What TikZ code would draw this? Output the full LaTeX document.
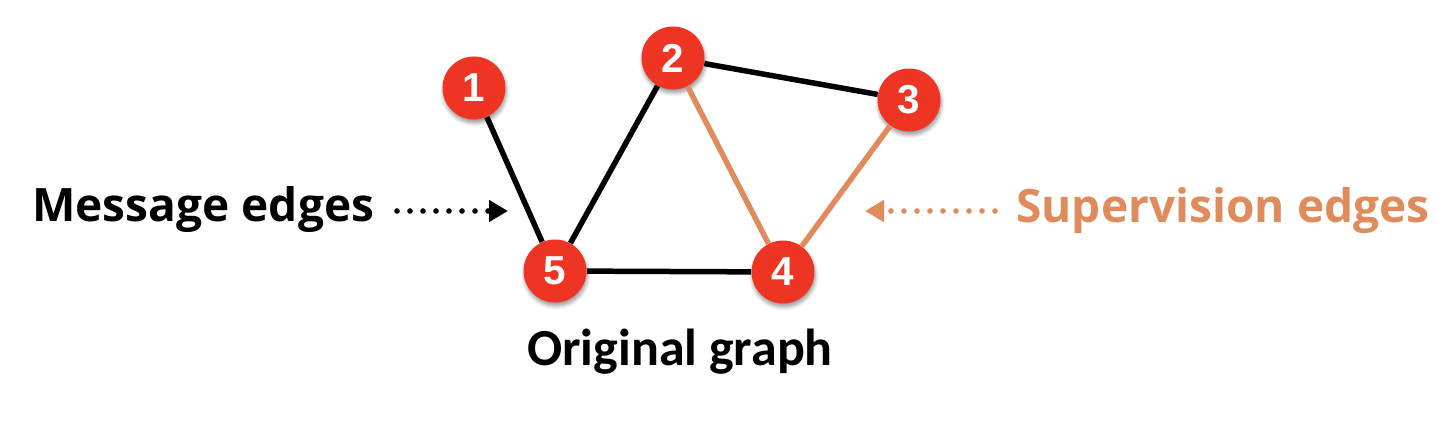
\documentclass[tikz,border=0pt]{standalone}
\usepackage{fontspec}
\setmainfont{Open Sans}
\newfontfamily\labelfont{Open Sans}
\newfontfamily\captionfont{Carlito}
\newfontfamily\numfont{Liberation Sans}
\usetikzlibrary{arrows.meta, shadows.blur}
\definecolor{nodered}{HTML}{EE3524}
\definecolor{superorange}{HTML}{DF8B5B}

\begin{document}
\begin{tikzpicture}[x=0.02cm, y=-0.02cm,
    vertex/.style={circle, fill=nodered, minimum size=1.26cm, inner sep=0pt, text=white,
        font=\numfont\bfseries\fontsize{23}{23}\selectfont,
        blur shadow={shadow xshift=0.5pt, shadow yshift=-2pt, shadow blur steps=6, shadow opacity=40}},
    msgedge/.style={line width=0.11cm, black},
    supedge/.style={line width=0.11cm, superorange},
    pointer/.style={line width=3.2pt, line cap=round, dash pattern=on 0pt off 7.4pt,
        -{Triangle[length=0.38cm, width=0.42cm, sharp]}},
    sidelabel/.style={inner sep=0pt, anchor=base west, font=\labelfont\bfseries\fontsize{26.2}{30}\selectfont},
  ]
    \useasboundingbox (0,0) rectangle (1438,428);

    % vertices
    \node[vertex] (n1) at (474,88) {1};
    \node[vertex] (n2) at (673,58) {2};
    \node[vertex] (n3) at (909,100) {3};
    \node[vertex] (n4) at (783,272) {4};
    \node[vertex] (n5) at (555,271) {5};

    % edges
    \draw[msgedge] (n1) -- (n5);
    \draw[msgedge] (n5) -- (n2);
    \draw[msgedge] (n2) -- (n3);
    \draw[msgedge] (n5) -- (n4);
    \draw[supedge] (n2) -- (n4);
    \draw[supedge] (n3) -- (n4);

    % labels
    \node[sidelabel] (msglabel) at (32,222) {Message edges};
    \node[sidelabel, text=superorange] (suplabel) at (1016,223) {Supervision edges};
    \node[inner sep=0pt, anchor=base, font=\captionfont\bfseries\fontsize{29.6}{34}\selectfont] (caption) at (680,366) {Original graph};

    % pointers
    \coordinate (msgtail) at (397,211);
    \coordinate (msghead) at (508,211);
    \coordinate (suptail) at (995,211);
    \coordinate (suphead) at (865,211);
    \draw[pointer] (msgtail) -- (msghead);
    \draw[pointer, superorange] (suptail) -- (suphead);
\end{tikzpicture}
\end{document}
